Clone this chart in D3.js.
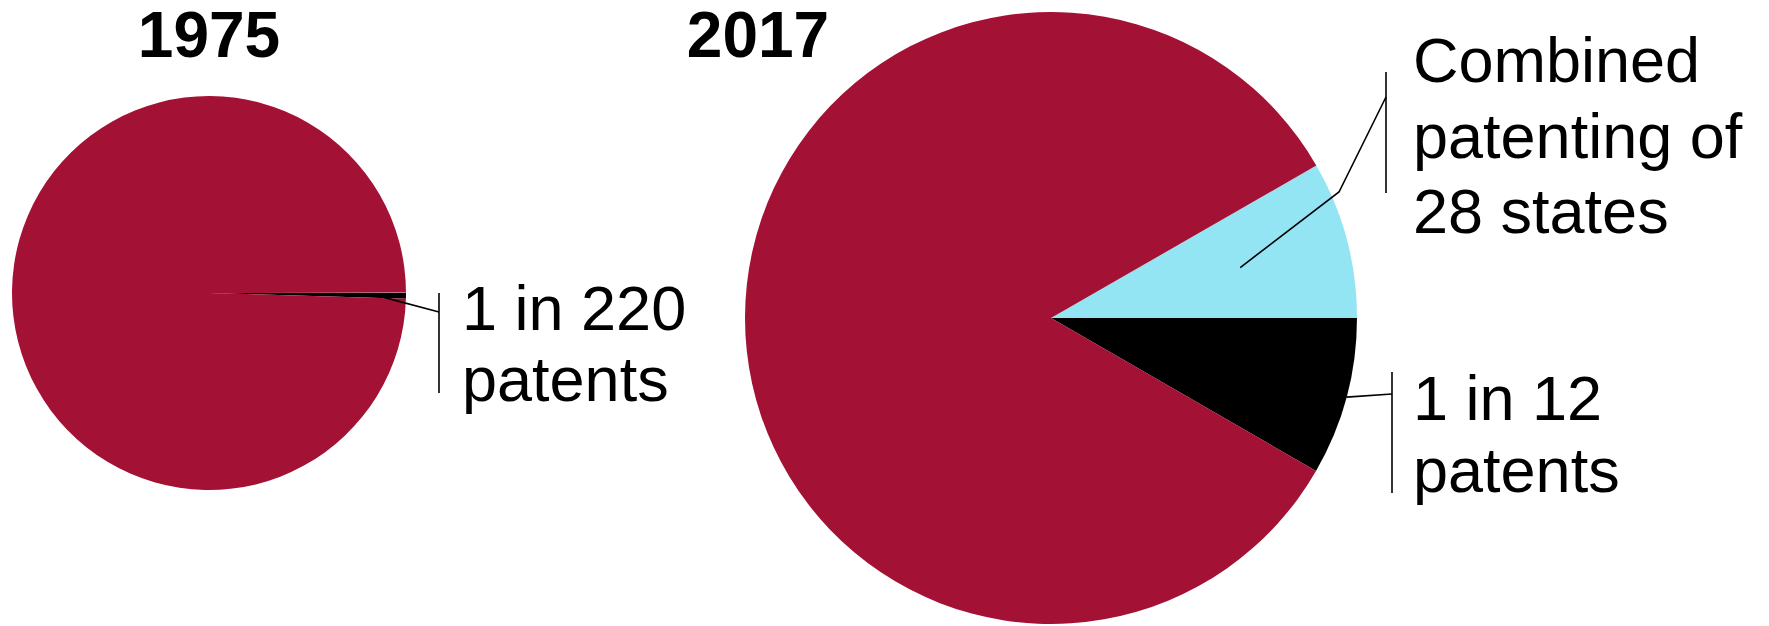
<!DOCTYPE html>
<html>
<head>
<meta charset="utf-8">
<script src="https://cdn.jsdelivr.net/npm/d3@7"></script>
<style>
  body { margin: 0; background: #fff; }
  svg { display: block; }
</style>
</head>
<body>
<div id="chart"></div>
<script>
var width = 1769,
  height = 626;

// data
const years = ["1975", "2017"];
const sliceKeys = ["states28", "single", "others"];
const shares1975 = [0.04, 0.4545, 99.5055]; // % of patents
const shares2017 = [8.3, 8.33, 83.37];
const labels1975 = [null, ["1 in 220", "patents"], null];
const labels2017 = [["Combined", "patenting of", "28 states"], ["1 in 12", "patents"], null];

const color = d3
  .scaleOrdinal()
  .domain(sliceKeys)
  .range(["#94e5f3", "#000000", "#a31134"]);

// layout for each pie (center, radius, title spot) and the leader lines
const pies = [
  {
    year: years[0],
    shares: shares1975,
    labels: labels1975,
    cx: 209, cy: 293, r: 197,
    titleX: 209,
    leaders: [
      { slice: 1, start: 0.85, elbow: null, bx: 230, by: [0, 100], hit: 19, tx: 253, ty: 37, lh: 71 },
    ],
  },
  {
    year: years[1],
    shares: shares2017,
    labels: labels2017,
    cx: 1051, cy: 318, r: 306,
    titleX: 758,
    leaders: [
      { slice: 0, start: 0.64, elbow: [288, -126], bx: 335, by: [-246, -125], hit: -221, tx: 362, ty: -236, lh: 75.5 },
      { slice: 1, start: 1.0, elbow: null, bx: 341, by: [54, 175], hit: 76, tx: 362, ty: 102, lh: 72 },
    ],
  },
];

var svg = d3
  .select("#chart")
  .append("svg")
  .attr("width", width)
  .attr("height", height);

pies.forEach(function (p) {
  var data = sliceKeys.map(function (k, i) {
    return { key: k, value: p.shares[i], label: p.labels[i] };
  });

  // black slice starts at 3 o'clock going clockwise, cyan sits just above it
  var total = d3.sum(data, (d) => d.value);
  var start = Math.PI / 2 - (data[0].value / total) * 2 * Math.PI;
  var pie = d3
    .pie()
    .sort(null)
    .value((d) => d.value)
    .startAngle(start)
    .endAngle(start + 2 * Math.PI);
  var arcs = pie(data);

  var arc = d3.arc().innerRadius(0).outerRadius(p.r);

  var g = svg
    .append("g")
    .attr("transform", "translate(" + p.cx + "," + p.cy + ")");

  g.selectAll("path.slice")
    .data(arcs)
    .enter()
    .append("path")
    .attr("class", "slice")
    .attr("d", arc)
    .attr("fill", (d) => color(d.data.key));

  svg
    .append("text")
    .attr("x", p.titleX)
    .attr("y", 57)
    .attr("text-anchor", "middle")
    .attr("font-family", "Liberation Sans, Arial, sans-serif")
    .attr("font-weight", "bold")
    .attr("font-size", 64)
    .text(p.year);

  p.leaders.forEach(function (l) {
    var a = arcs[l.slice];
    var mid = (a.startAngle + a.endAngle) / 2;
    var sx = Math.sin(mid) * p.r * l.start,
      sy = -Math.cos(mid) * p.r * l.start;
    var pts = [[sx, sy]];
    if (l.elbow) pts.push(l.elbow);
    pts.push([l.bx, l.hit]);

    g.append("path")
      .attr("d", d3.line()(pts))
      .attr("fill", "none")
      .attr("stroke", "#000")
      .attr("stroke-width", 1.6);

    g.append("line")
      .attr("x1", l.bx)
      .attr("x2", l.bx)
      .attr("y1", l.by[0])
      .attr("y2", l.by[1])
      .attr("stroke", "#000")
      .attr("stroke-width", 1.6);

    g.append("g")
      .selectAll("text")
      .data(a.data.label)
      .enter()
      .append("text")
      .attr("x", l.tx)
      .attr("y", (d, i) => l.ty + i * l.lh)
      .attr("font-family", "Liberation Sans, Arial, sans-serif")
      .attr("font-size", 63)
      .attr("fill", "#000")
      .text((d) => d);
  });
});
</script>
</body>
</html>
